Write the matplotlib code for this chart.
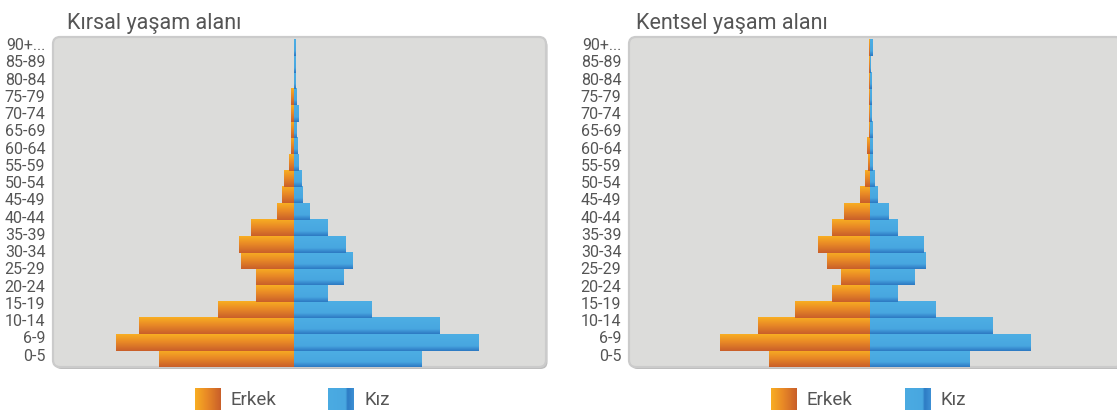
import matplotlib
matplotlib.use("Agg")
import matplotlib.pyplot as plt
import numpy as np
from matplotlib.colors import LinearSegmentedColormap
from matplotlib.patches import FancyBboxPatch

plt.rcParams["font.family"] = ["Roboto", "DejaVu Sans"]

W, H = 1117, 415
TEXT_COLOR = "#555555"
PANEL_COLOR = "#DCDCDA"
BORDER_COLOR = "#CBCBCB"
SHADOW_COLOR = "#BDBDBD"

# axis labels as printed (19 labels), bars below are 20 rows, bottom to top
age_labels = ["0-5", "6-9", "10-14", "15-19", "20-24", "25-29", "30-34", "35-39",
              "40-44", "45-49", "50-54", "55-59", "60-64", "65-69", "70-74",
              "75-79", "80-84", "85-89", "90+..."]

rural_male = [135, 178, 155, 76, 38, 38, 53, 55, 43, 17, 12, 10, 5, 3, 3, 3, 3, 0, 0, 0]
rural_female = [128, 185, 146, 78, 34, 50, 59, 52, 34, 16, 9, 8, 5, 4, 3, 5, 3, 1.5, 1.5, 1.5]

urban_male = [101, 150, 112, 75, 38, 29, 43, 52, 38, 26, 10, 5, 2, 3, 1, 1, 1, 1, 1, 1]
urban_female = [100, 161, 123, 66, 28, 45, 56, 54, 28, 19, 8, 5, 3, 3, 3, 2, 2, 2, 1, 3]

titles = ["Kırsal yaşam alanı", "Kentsel yaşam alanı"]
legend_labels = ["Erkek", "Kız"]

ORANGE = LinearSegmentedColormap.from_list(
    "orange", [(0, "#F8AE22"), (0.45, "#E98A26"), (1, "#C95F2A")])
BLUE = LinearSegmentedColormap.from_list(
    "blue", [(0, "#4DAEE4"), (0.7, "#48A7E0"), (0.85, "#3A8FD2"), (1, "#2C79C2")])
BLUE_H = LinearSegmentedColormap.from_list(
    "blue_h", [(0, "#4BABE2"), (0.68, "#48A7E0"), (0.76, "#2D7BC4"), (1, "#3D90D4")])


def px_rect(x0, y0, x1, y1):
    return [x0 / W, 1 - y1 / H, (x1 - x0) / W, (y1 - y0) / H]


def gradient_bars(ax, values, cmap, sign):
    grad = np.linspace(0, 1, 64).reshape(-1, 1)
    rows = np.arange(len(values))
    bars = ax.barh(rows, sign * np.array(values), height=1.0, color="none", linewidth=0)
    for bar in bars:
        x, y = bar.get_xy()
        w, h = bar.get_width(), bar.get_height()
        if w == 0:
            continue
        ax.imshow(grad, cmap=cmap, extent=[min(x, x + w), max(x, x + w), y, y + h],
                  aspect="auto", origin="upper", zorder=2, interpolation="bilinear")


def draw_panel(fig, rect, title, title_x, males, females, legend_x):
    ax = fig.add_axes(px_rect(*rect))
    w_px = rect[2] - rect[0]
    h_px = rect[3] - rect[1]
    ax.patch.set_visible(False)

    # rounded grey plot box with a thin shadow
    r = 7.0
    shadow = FancyBboxPatch((1.5 / w_px, -2.0 / h_px), 1, 1, transform=ax.transAxes,
                            boxstyle=f"round,pad=0,rounding_size={r / w_px}",
                            mutation_aspect=w_px / h_px, facecolor=SHADOW_COLOR,
                            edgecolor="none", zorder=0, clip_on=False)
    box = FancyBboxPatch((0, 0), 1, 1, transform=ax.transAxes,
                         boxstyle=f"round,pad=0,rounding_size={r / w_px}",
                         mutation_aspect=w_px / h_px, facecolor=PANEL_COLOR,
                         edgecolor=BORDER_COLOR, linewidth=1.6, zorder=1, clip_on=False)
    ax.add_patch(shadow)
    ax.add_patch(box)

    gradient_bars(ax, males, ORANGE, -1)
    gradient_bars(ax, females, BLUE, 1)

    n_rows = len(males)
    row_px = (rect[3] - 40) / n_rows
    ax.set_xlim(-241, 252)
    ax.set_ylim(-0.5, -0.5 + h_px / row_px)

    # the source prints 19 labels evenly over the 20 bar rows
    ax.set_yticks(np.linspace(0.25, n_rows - 0.75, len(age_labels)))
    ax.set_yticklabels(age_labels)
    ax.tick_params(axis="y", length=0, pad=5.5, labelsize=11.5, labelcolor=TEXT_COLOR)
    ax.set_xticks([])
    for s in ax.spines.values():
        s.set_visible(False)

    fig.text(title_x / W, 1 - 29 / H, title, fontsize=15.5,
             color=TEXT_COLOR, va="baseline", ha="left")

    # legend swatches
    hgrad = np.linspace(0, 1, 64).reshape(1, -1)
    for i, (cmap, label) in enumerate([(ORANGE, legend_labels[0]), (BLUE_H, legend_labels[1])]):
        x0 = legend_x[i]
        sw = fig.add_axes(px_rect(x0, 388, x0 + 26, 410))
        sw.imshow(hgrad, cmap=cmap, aspect="auto", interpolation="bilinear")
        sw.axis("off")
        fig.text((x0 + 36) / W, 1 - 399.5 / H, label, fontsize=13.5, color=TEXT_COLOR,
                 va="center", ha="left")
    return ax


def plot():
    fig = plt.figure(figsize=(W / 100, H / 100), dpi=100, facecolor="white")
    draw_panel(fig, (53, 37, 546, 367), titles[0], 67, rural_male, rural_female, (195, 328))
    draw_panel(fig, (629, 37, 1122, 367), titles[1], 636, urban_male, urban_female, (771, 905))
    fig.savefig("out.png", dpi=100, facecolor="white")


if __name__ == "__main__":
    plot()
